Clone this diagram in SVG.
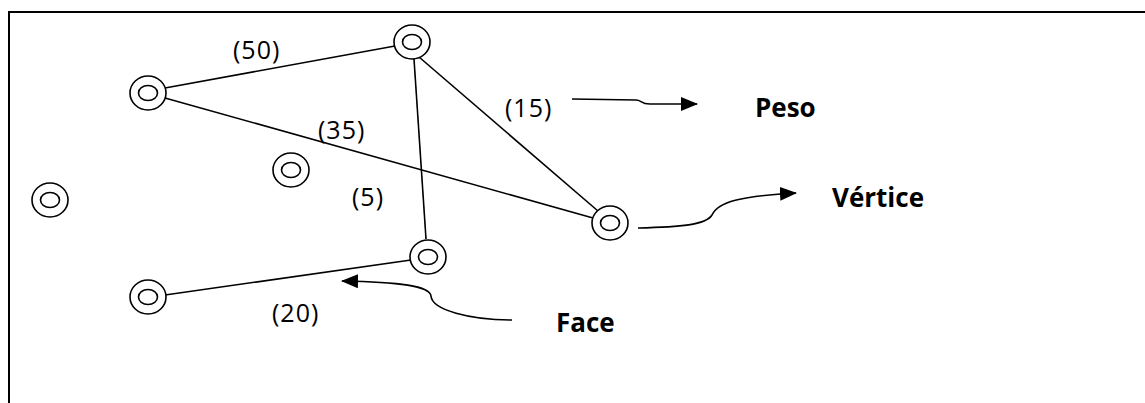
<svg xmlns="http://www.w3.org/2000/svg" width="1145" height="403" viewBox="0 0 1145 403">
  <style>
    .frame { fill: none; stroke: #000; stroke-width: 2; }
    .edge { fill: none; stroke: #000; stroke-width: 1.6; }
    .ring { fill: #fff; stroke: #000; stroke-width: 1.6; }
    .pointer { fill: none; stroke: #000; stroke-width: 1.6; }
    .w { font-family: "Open Sans", "Liberation Sans", sans-serif; font-size: 25px; letter-spacing: 1px; fill: #000; }
    .lbl { font-family: "Open Sans", "Liberation Sans", sans-serif; font-size: 26px; font-weight: bold; fill: #000; }
  </style>
  <defs>
    <marker id="head" viewBox="0 0 17 14" refX="16" refY="7" markerWidth="17" markerHeight="14" markerUnits="userSpaceOnUse" orient="auto">
      <path d="M0,0 L17,7 L0,14 Z" fill="#000"/>
    </marker>
    <g id="vertex">
      <ellipse class="ring" cx="0" cy="0" rx="18" ry="17"/>
      <ellipse class="ring" cx="0" cy="0" rx="9.5" ry="7.5"/>
    </g>
  </defs>

  <rect width="1145" height="403" fill="#fff"/>
  <!-- page frame: top and left rules only -->
  <path class="frame" d="M9,403 V12 H1145"/>

  <!-- graph edges -->
  <g id="edges">
    <line class="edge" x1="165" y1="88" x2="395" y2="46"/>
    <line class="edge" x1="165" y1="98" x2="593" y2="218"/>
    <line class="edge" x1="419" y1="57" x2="598" y2="211"/>
    <line class="edge" x1="414" y1="59" x2="426" y2="239"/>
    <line class="edge" x1="165" y1="295" x2="411" y2="260"/>
  </g>

  <!-- annotation pointers -->
  <g id="pointers">
    <path class="pointer" d="M572,99 L636,100 C642,100 640,104 650,104 L697,104" marker-end="url(#head)"/>
    <path class="pointer" d="M638,228 C680,227 706,225 712,215 C718,202 740,196 796,193" marker-end="url(#head)"/>
    <path class="pointer" d="M512,320 C470,320 432,310 431,296 C430,286 400,282 342,281" marker-end="url(#head)"/>
  </g>

  <!-- vertices -->
  <g id="v1"><use href="#vertex" x="148" y="93"/></g>
  <g id="v2"><use href="#vertex" x="412" y="42"/></g>
  <g id="v3"><use href="#vertex" x="610" y="223"/></g>
  <g id="v4"><use href="#vertex" x="428" y="257"/></g>
  <g id="v5"><use href="#vertex" x="148" y="297"/></g>
  <g id="v6"><use href="#vertex" x="291" y="170"/></g>
  <g id="v7"><use href="#vertex" x="50" y="200"/></g>

  <!-- edge weights -->
  <g id="weights">
    <text class="w" x="233" y="59">(50)</text>
    <text class="w" x="318" y="139">(35)</text>
    <text class="w" x="505" y="117">(15)</text>
    <text class="w" x="352" y="206">(5)</text>
    <text class="w" x="272" y="322">(20)</text>
  </g>

  <!-- callout labels -->
  <g id="labels">
    <text class="lbl" x="755" y="117">Peso</text>
    <text class="lbl" x="832" y="207">Vértice</text>
    <text class="lbl" x="556" y="332">Face</text>
  </g>
</svg>
